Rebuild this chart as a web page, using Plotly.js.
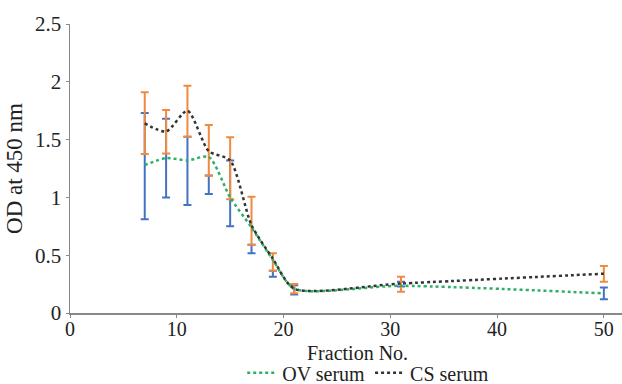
<!DOCTYPE html>
<html>
<head>
<meta charset="utf-8">
<script src="https://cdn.plot.ly/plotly-3.0.1.min.js"></script>
<style>html,body{margin:0;padding:0;background:#fff;}#chart{width:622px;height:384px;}</style>
</head>
<body>
<div id="chart"></div>
<script>
// Fraction numbers
var fractions = [7, 9, 11, 13, 15, 17, 19, 21, 31, 50];
// Smoothed line values
var ovSerum = [1.28, 1.34, 1.32, 1.35, 1.00, 0.74, 0.46, 0.21, 0.235, 0.17];
var csSerum = [1.64, 1.57, 1.75, 1.40, 1.32, 0.76, 0.47, 0.21, 0.255, 0.34];
// Error bar ends (top / bottom) as drawn
var ovBarTop    = [1.73, 1.68, 1.525, 1.19, 1.32, 0.59, 0.366, 0.24, 0.27, 0.22];
var ovBarBottom = [0.81, 1.00, 0.934, 1.03, 0.75, 0.516, 0.314, 0.16, 0.23, 0.118];
var csBarTop    = [1.91, 1.756, 1.966, 1.626, 1.52, 1.006, 0.516, 0.25, 0.314, 0.407];
var csBarBottom = [1.375, 1.38, 1.525, 1.188, 0.984, 0.59, 0.366, 0.17, 0.184, 0.27];

function mid(a, b) { return a.map(function (v, i) { return (v + b[i]) / 2; }); }
function half(a, b) { return a.map(function (v, i) { return (v - b[i]) / 2; }); }

var font = '"Liberation Serif", "Times New Roman", serif';

var traces = [
  {
    x: fractions, y: mid(ovBarTop, ovBarBottom), type: 'scatter', mode: 'markers',
    marker: {size: 1, opacity: 0}, showlegend: false, hoverinfo: 'skip',
    error_y: {type: 'data', array: half(ovBarTop, ovBarBottom), visible: true,
              color: '#4472C4', thickness: 2, width: 4}
  },
  {
    x: fractions, y: mid(csBarTop, csBarBottom), type: 'scatter', mode: 'markers',
    marker: {size: 1, opacity: 0}, showlegend: false, hoverinfo: 'skip',
    error_y: {type: 'data', array: half(csBarTop, csBarBottom), visible: true,
              color: '#F08A3E', thickness: 2, width: 4}
  },
  {
    x: fractions, y: ovSerum, type: 'scatter', mode: 'lines', name: 'OV serum',
    line: {color: '#2EAF66', width: 2.5, dash: 'dot', shape: 'spline', smoothing: 0.7}
  },
  {
    x: fractions, y: csSerum, type: 'scatter', mode: 'lines', name: 'CS serum',
    line: {color: '#333333', width: 2.5, dash: 'dot', shape: 'spline', smoothing: 0.7}
  }
];

var layout = {
  width: 622, height: 384,
  margin: {l: 70, r: 0, t: 24, b: 71, autoexpand: false},
  paper_bgcolor: '#fff', plot_bgcolor: '#fff',
  font: {family: font, size: 21, color: '#222'},
  showlegend: true,
  legend: {orientation: 'h', x: 0.312, xanchor: 'left', y: -0.207, yanchor: 'middle',
           font: {family: font, size: 20, color: '#222'}, itemwidth: 30, tracegroupgap: 0,
           bgcolor: 'rgba(0,0,0,0)'},
  xaxis: {
    range: [0, 51.7], tickvals: [0, 10, 20, 30, 40, 50], showgrid: false, zeroline: false,
    showline: true, linecolor: '#888', linewidth: 1.5, ticks: 'outside', ticklen: 3,
    tickcolor: '#888', tickfont: {family: font, size: 20, color: '#222'},
    ticklabelstandoff: -6
  },
  yaxis: {
    range: [0, 2.5], tickvals: [0, 0.5, 1, 1.5, 2, 2.5], ticktext: ['0', '0.5', '1', '1.5', '2', '2.5'],
    showgrid: false, zeroline: false,
    showline: true, linecolor: '#888', linewidth: 1.5, ticks: 'outside', ticklen: 3,
    tickcolor: '#888', tickfont: {family: font, size: 21, color: '#222'},
    title: {text: 'OD at 450 nm', font: {family: font, size: 23, color: '#222'}, standoff: 6}
  },
  annotations: [{
    text: 'Fraction No.', xref: 'paper', yref: 'paper', x: 0.52, y: -0.14,
    xanchor: 'center', yanchor: 'middle', showarrow: false,
    font: {family: font, size: 20, color: '#222'}
  }]
};

Plotly.newPlot('chart', traces, layout, {displayModeBar: false, staticPlot: true});
</script>
</body>
</html>
